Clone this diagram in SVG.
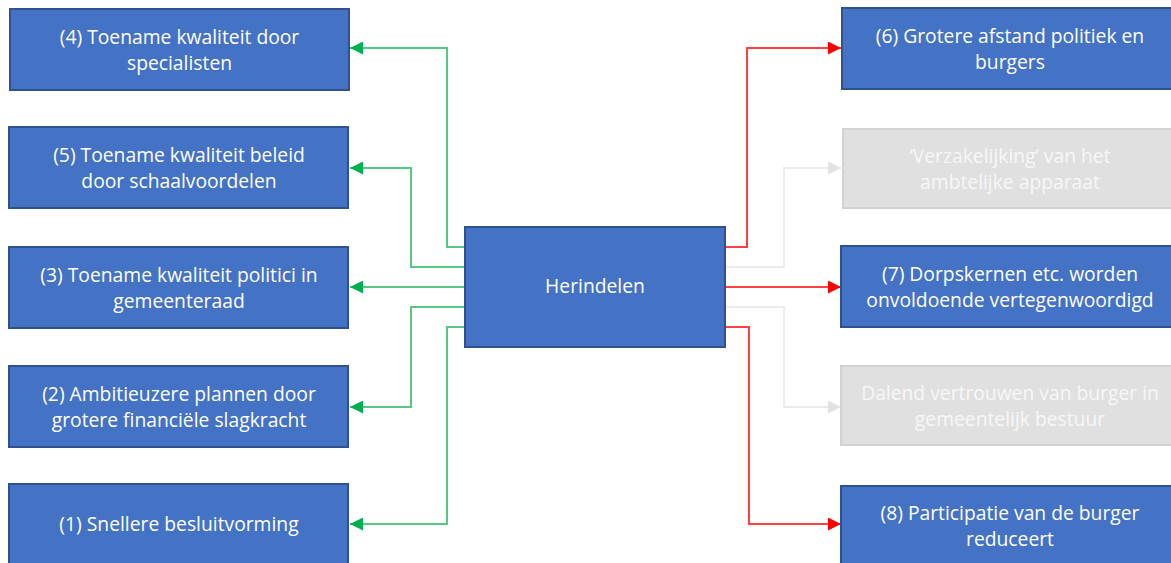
<svg xmlns="http://www.w3.org/2000/svg" width="1171" height="563" viewBox="0 0 1171 563">
<style>
.box{fill:#4472c4;stroke:#2f528f;stroke-width:2}
.gbox{fill:#e0e0e0;stroke:#d2d2d2;stroke-width:2}
.t{font-family:"Open Sans","Liberation Sans",Arial,sans-serif;font-size:19.3px;fill:#ffffff;text-anchor:middle}
.gt{font-family:"Open Sans","Liberation Sans",Arial,sans-serif;font-size:19.3px;fill:#f7f7f7;text-anchor:middle}
.g{fill:none;stroke:#55c881;stroke-width:2}
.r{fill:none;stroke:#ff4040;stroke-width:2}
.gr{fill:none;stroke:#ebebeb;stroke-width:2}
</style>
<defs>
<marker id="ag" viewBox="0 0 10 10" refX="10" refY="5" markerWidth="6.5" markerHeight="6.5" orient="auto" markerUnits="strokeWidth"><path d="M0,0 L10,5 L0,10 z" fill="#00b050"/></marker>
<marker id="ar" viewBox="0 0 10 10" refX="10" refY="5" markerWidth="6.5" markerHeight="6.5" orient="auto" markerUnits="strokeWidth"><path d="M0,0 L10,5 L0,10 z" fill="#ff0000"/></marker>
<marker id="agr" viewBox="0 0 10 10" refX="10" refY="5" markerWidth="6.5" markerHeight="6.5" orient="auto" markerUnits="strokeWidth"><path d="M0,0 L10,5 L0,10 z" fill="#e2e2e2"/></marker>
</defs>
<g id="connectors">
<path class="g" d="M465,247 H447 V48 H350" marker-end="url(#ag)"/>
<path class="g" d="M465,267 H411 V168 H350" marker-end="url(#ag)"/>
<path class="g" d="M465,287 H350" marker-end="url(#ag)"/>
<path class="g" d="M465,307 H411 V407 H350" marker-end="url(#ag)"/>
<path class="g" d="M465,327 H447 V524 H350" marker-end="url(#ag)"/>
<path class="r" d="M725,247 H747 V48 H841" marker-end="url(#ar)"/>
<path class="gr" d="M725,267 H784 V168 H841" marker-end="url(#agr)"/>
<path class="r" d="M725,287 H841" marker-end="url(#ar)"/>
<path class="gr" d="M725,307 H784 V407 H841" marker-end="url(#agr)"/>
<path class="r" d="M725,327 H749 V524 H841" stroke="#ff6b6b" marker-end="url(#ar)"/>
</g>
<g id="n4"><rect class="box" x="10" y="9" width="339" height="81"/><text class="t" x="179.5" y="44">(4) Toename kwaliteit door</text><text class="t" x="179.5" y="70">specialisten</text></g>
<g id="n5"><rect class="box" x="9" y="127" width="339" height="81"/><text class="t" x="179" y="162">(5) Toename kwaliteit beleid</text><text class="t" x="179" y="188">door schaalvoordelen</text></g>
<g id="n3"><rect class="box" x="9" y="247" width="339" height="81"/><text class="t" x="179" y="282">(3) Toename kwaliteit politici in</text><text class="t" x="179" y="308">gemeenteraad</text></g>
<g id="n2"><rect class="box" x="9" y="366" width="339" height="81"/><text class="t" x="179" y="401">(2) Ambitieuzere plannen door</text><text class="t" x="179" y="427">grotere financiële slagkracht</text></g>
<g id="n1"><rect class="box" x="9" y="484" width="339" height="81"/><text class="t" x="179" y="531">(1) Snellere besluitvorming</text></g>
<g id="herindelen"><rect class="box" x="465" y="227" width="260" height="120"/><text class="t" x="595" y="293">Herindelen</text></g>
<g id="n6"><rect class="box" x="842" y="8" width="337" height="81"/><text class="t" x="1010" y="43">(6) Grotere afstand politiek en</text><text class="t" x="1010" y="69">burgers</text></g>
<g id="verzakelijking"><rect class="gbox" x="843" y="129" width="337" height="79"/><text class="gt" x="1010" y="163">‘Verzakelijking’ van het</text><text class="gt" x="1010" y="189">ambtelijke apparaat</text></g>
<g id="n7"><rect class="box" x="841" y="246" width="337" height="81"/><text class="t" x="1010" y="281">(7) Dorpskernen etc. worden</text><text class="t" x="1010" y="307">onvoldoende vertegenwoordigd</text></g>
<g id="dalend"><rect class="gbox" x="841" y="366" width="337" height="79"/><text class="gt" x="1010" y="400">Dalend vertrouwen van burger in</text><text class="gt" x="1010" y="426">gemeentelijk bestuur</text></g>
<g id="n8"><rect class="box" x="841" y="486" width="337" height="81"/><text class="t" x="1010" y="520">(8) Participatie van de burger</text><text class="t" x="1010" y="546">reduceert</text></g>
</svg>
